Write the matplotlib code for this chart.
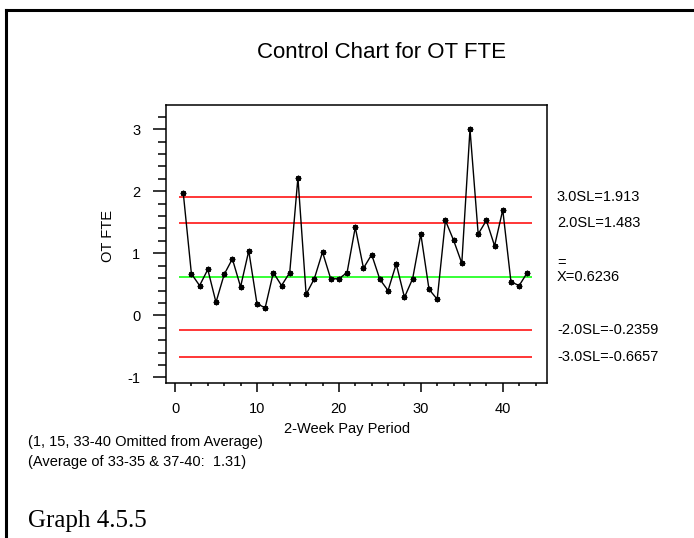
import numpy as np
import matplotlib
matplotlib.use("Agg")
import matplotlib.pyplot as plt
from matplotlib.lines import Line2D
from matplotlib.ticker import MultipleLocator
import matplotlib.transforms as mtransforms

# =========================================================
# data
# =========================================================
periods = np.arange(1, 44)
ot_fte = [1.98, 0.67, 0.48, 0.74, 0.21, 0.66, 0.91, 0.46, 1.04, 0.19,
          0.12, 0.69, 0.48, 0.69, 2.22, 0.34, 0.59, 1.02, 0.59, 0.59,
          0.69, 1.42, 0.76, 0.98, 0.58, 0.40, 0.83, 0.29, 0.59, 1.31,
          0.42, 0.26, 1.53, 1.21, 0.84, 3.00, 1.31, 1.53, 1.12, 1.70,
          0.54, 0.48, 0.69]

center_line = 0.6236
limit_values = [1.913, 1.483, -0.2359, -0.6657]
limit_labels = ["3.0SL=1.913", "2.0SL=1.483", "-2.0SL=-0.2359", "-3.0SL=-0.6657"]
notes = ["(1, 15, 33-40 Omitted from Average)",
         "(Average of 33-35 & 37-40:  1.31)"]

# =========================================================
# plotting
# =========================================================
plt.rcParams['font.family'] = ['Liberation Sans', 'DejaVu Sans']
plt.rcParams['axes.unicode_minus'] = False
fs = 10.5

fig = plt.figure(figsize=(6.94, 5.38), dpi=100)
ax = fig.add_axes([0.2392, 0.2881, 0.549, 0.5167])

# control limits
ax.hlines(limit_values, 0.5, 43.6, colors='#ff0000', linewidth=1.1, zorder=1)
ax.hlines(center_line, 0.5, 43.6, colors='#00ff00', linewidth=1.1, zorder=1)

# data
ax.plot(periods, ot_fte, color='k', linewidth=1.0, marker=(8, 2, 0),
        markersize=4, markeredgewidth=1.0, zorder=2)

ax.set_xlim(-1.1, 45.4)
ax.set_ylim(-1.09, 3.39)
ax.xaxis.set_major_locator(MultipleLocator(10))
ax.xaxis.set_minor_locator(MultipleLocator(2))
ax.yaxis.set_major_locator(MultipleLocator(1))
ax.yaxis.set_minor_locator(MultipleLocator(0.2))

ax.tick_params(axis='y', which='major', length=9.4, width=1.1, pad=9, labelsize=fs)
ax.tick_params(axis='y', which='minor', length=5.5, width=1.1)
ax.tick_params(axis='x', which='major', length=6.5, width=1.1, pad=7, labelsize=fs)
ax.tick_params(axis='x', which='minor', length=2.5, width=1.1)
for sp in ax.spines.values():
    sp.set_linewidth(1.1)

ax.set_xlabel("2-Week Pay Period", fontsize=fs)
ax.xaxis.set_label_coords(0.475, -0.14)
ax.set_ylabel("OT FTE", fontsize=fs)
ax.yaxis.set_label_coords(-0.135, 0.53)

# limit labels on the right
trans = mtransforms.blended_transform_factory(ax.transAxes, ax.transData)
for val, lab in zip(limit_values, limit_labels):
    ax.text(1.026, val, lab, transform=trans, ha='left', va='center',
            fontsize=fs, clip_on=False)
ax.text(1.026, center_line, "X=0.6236", transform=trans, ha='left',
        va='center', fontsize=fs, clip_on=False)
ax.annotate("=", xy=(1.026, center_line), xycoords=trans, xytext=(0, 9.5),
            textcoords='offset points', ha='left', va='center', fontsize=fs,
            annotation_clip=False)

# title and notes
fig.text(0.549, 0.9015, "Control Chart for OT FTE", ha='center', va='center',
         fontsize=16)
fig.text(0.041, 0.1784, notes[0], ha='left', va='center', fontsize=fs)
fig.text(0.041, 0.1413, notes[1], ha='left', va='center', fontsize=fs)
fig.text(0.0403, 0.0204, "Graph 4.5.5", ha='left', va='baseline',
         fontsize=18, family='Liberation Serif')

# outer frame (top and left)
fig.add_artist(Line2D([6 / 694, 1], [1 - 10 / 538, 1 - 10 / 538],
                      color='k', linewidth=2.2, transform=fig.transFigure))
fig.add_artist(Line2D([6 / 694, 6 / 694], [0, 1 - 10 / 538],
                      color='k', linewidth=2.2, transform=fig.transFigure))

plt.savefig('out.png', dpi=100)
